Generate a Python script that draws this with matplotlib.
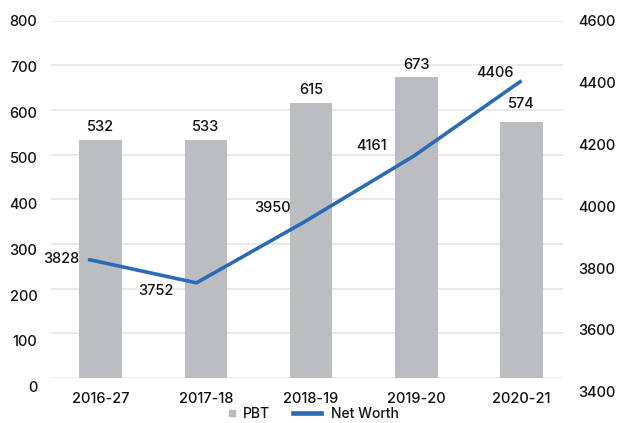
import matplotlib
matplotlib.use("Agg")
import matplotlib.pyplot as plt
from matplotlib.lines import Line2D

categories = ["2016-27", "2017-18", "2018-19", "2019-20", "2020-21"]
pbt = [532, 533, 615, 673, 574]
net_worth = [3828, 3752, 3950, 4161, 4406]
left_ticks = [0, 100, 200, 300, 400, 500, 600, 700, 800]
right_ticks = [3400, 3600, 3800, 4000, 4200, 4400, 4600]

plt.rcParams['font.family'] = ['Inter', 'DejaVu Sans']
plt.rcParams['font.weight'] = 'medium'
W, H = 622, 423
fig = plt.figure(figsize=(W / 100, H / 100), dpi=100)

def rect(x0, y0, x1, y1):
    return [x0 / W, 1 - y1 / H, (x1 - x0) / W, (y1 - y0) / H]

BAR_C = "#BCBDC1"
LINE_C = "#2A6BB8"
GRID_C = "#E6E6E6"
TXT = "#111111"
FS = 10.5

# main axes: bars + grid
ax = fig.add_axes(rect(50.7, 20.7, 563, 378))
x = list(range(len(categories)))
ax.bar(x, pbt, width=0.406, color=BAR_C, zorder=2)
ax.set_ylim(0, 800)
ax.set_xlim(-0.475, 4.395)
ax.set_yticks(left_ticks)
ax.yaxis.grid(True, color=GRID_C, linewidth=1.2, zorder=0)
ax.tick_params(axis='y', left=False, labelleft=False)
ax.set_xticks(x)
ax.set_xticklabels(categories, fontsize=FS, color=TXT)
ax.tick_params(axis='x', bottom=False, pad=6.5)
for s in ax.spines.values():
    s.set_visible(False)
ax.set_axisbelow(True)

bar_off = [13, 13, 13.5, 12, 18]
for xi, v, o in zip(x, pbt, bar_off):
    ax.annotate(str(v), (xi, v), xytext=(0, o * 0.72), textcoords='offset points',
                ha='center', va='center', fontsize=FS, color=TXT)

# left tick label axes
axL = fig.add_axes(rect(50.7, 20.7, 563, 386.7))
axL.set_ylim(0, 800)
axL.set_yticks(left_ticks)
axL.set_yticklabels([str(t) for t in left_ticks], fontsize=FS, color=TXT)
axL.tick_params(axis='y', left=False, pad=8.5 * 0.72)
axL.set_xticks([])
axL.patch.set_visible(False)
for s in axL.spines.values():
    s.set_visible(False)

# right axes with line
ax2 = fig.add_axes(rect(50.7, 20.7, 563, 391.7))
ax2.patch.set_visible(False)
ax2.set_ylim(3400, 4600)
ax2.set_xlim(-0.344, 4.382)
ax2.plot(x, net_worth, color=LINE_C, linewidth=2.6, solid_capstyle='butt', zorder=3)
ax2.yaxis.tick_right()
ax2.set_yticks(right_ticks)
ax2.set_yticklabels([str(t) for t in right_ticks], fontsize=FS, color=TXT)
ax2.tick_params(axis='y', right=False, pad=10 * 0.72)
ax2.set_xticks([])
for s in ax2.spines.values():
    s.set_visible(False)

line_off = [(-9, 0), (-22.6, -8.3), (-14, 14), (-26, 10.5), (-7.4, 7.7)]
for xi, v, (dx, dy) in zip(x, net_worth, line_off):
    ax2.annotate(str(v), (xi, v), xytext=(dx * 0.72, dy * 0.72), textcoords='offset points',
                 ha='right', va='center', fontsize=FS, color=TXT)

# legend (two parts so each handle keeps its own width)
ly = 1 - 413.5 / H
leg1 = fig.legend([Line2D([], [], marker='s', linestyle='none', markersize=4.8, color=BAR_C)],
                  ["PBT"], loc='center left', bbox_to_anchor=(228.5 / W, ly),
                  frameon=False, fontsize=10, handlelength=0.55, handletextpad=0.5,
                  borderpad=0, borderaxespad=0, labelcolor=TXT)
fig.legend([Line2D([], [], color=LINE_C, linewidth=3.3)], ["Net Worth"],
           loc='center left', bbox_to_anchor=(293 / W, ly),
           frameon=False, fontsize=10, handlelength=2.0, handletextpad=0.74,
           borderpad=0, borderaxespad=0, labelcolor=TXT)

fig.savefig("out.png", dpi=100)
